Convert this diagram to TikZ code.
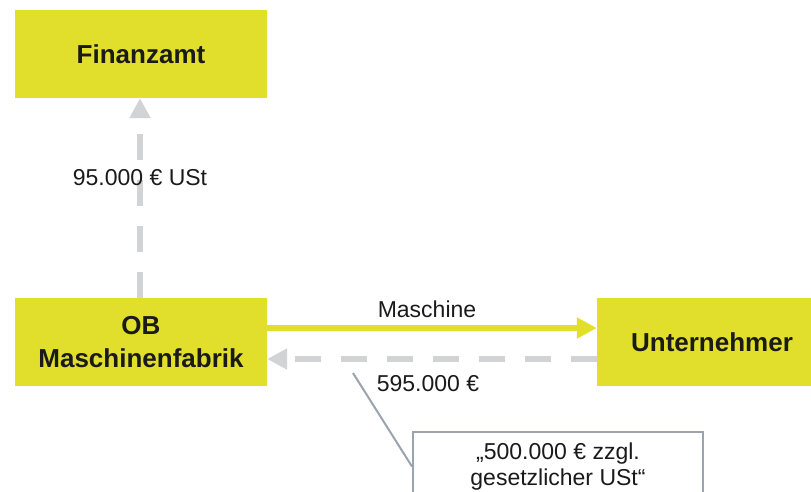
\documentclass[tikz,border=0pt]{standalone}
\usepackage{fontspec}
\setmainfont{Liberation Sans}
\usetikzlibrary{arrows.meta}
\definecolor{boxyellow}{HTML}{E1DF2C}
\definecolor{flowgray}{HTML}{D1D3D5}
\definecolor{notegray}{HTML}{9BA3AE}
\definecolor{txt}{HTML}{1A1A1A}
\tikzset{
  party/.style={rectangle, fill=boxyellow, draw=none, minimum width=252pt, minimum height=88pt,
    inner sep=0pt, align=center, text=txt, font=\fontsize{26}{33}\selectfont\bfseries},
  lbl/.style={inner sep=0pt, text=txt, font=\fontsize{23}{25}\selectfont},
  goods/.style={draw=boxyellow, line width=6.5pt, -{Triangle[length=20pt,width=20pt]}},
  money/.style={draw=flowgray, line width=6.5pt, dash pattern=on 26pt off 20pt,
    -{Triangle[length=20pt,width=20pt]}},
  notebox/.style={rectangle, draw=notegray, line width=2pt, fill=white, minimum width=290pt,
    minimum height=69pt, inner sep=0pt, align=center, text=txt, font=\fontsize{23}{25.5}\selectfont},
  noteline/.style={draw=notegray, line width=2pt},
}
\begin{document}
\begin{tikzpicture}[x=1pt,y=-1pt]
\useasboundingbox (0,0) rectangle (811,491);
\node[party] (fa) at (141,54) {Finanzamt};
\node[party] (ob) at (141,342) {OB\\Maschinenfabrik};
\node[party, minimum width=214pt] (un) at (704,342) {\hspace*{16pt}Unternehmer};
\draw[money] (ob.north -| 140,0) -- (fa.south -| 140,0);
\draw[goods] (ob.east |- 0,328) -- (un.west |- 0,328);
\draw[money] (un.west |- 0,359) -- (ob.east |- 0,359);
\node[lbl] (l1) at (140,178) {95.000 € USt};
\node[lbl] (l2) at (427,309) {Maschine};
\node[lbl] (l3) at (428,384) {595.000 €};
\node[notebox, anchor=north] (note) at (558,431) {„500.000 € zzgl.\\gesetzlicher USt“};
\coordinate (cp) at (353,373);
\draw[noteline] (cp) -- (note.west);
\end{tikzpicture}
\end{document}
